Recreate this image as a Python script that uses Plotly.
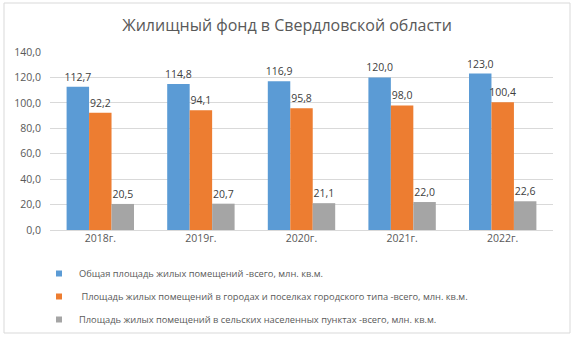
import plotly.graph_objects as go

categories = ["2018г.", "2019г.", "2020г.", "2021г.", "2022г."]
total = [112.7, 114.8, 116.9, 120.0, 123.0]
urban = [92.2, 94.1, 95.8, 98.0, 100.4]
rural = [20.5, 20.7, 21.1, 22.0, 22.6]
names = [
    "Общая площадь жилых помещений -всего, млн. кв.м.",
    " Площадь жилых помещений в городах и поселках городского типа -всего, млн. кв.м.",
    "Площадь жилых помещений в сельских населенных пунктах -всего, млн. кв.м.",
]
colors = ["#5B9BD5", "#ED7D31", "#A5A5A5"]
title = "Жилищный фонд в Свердловской области"

FONT = "Open Sans"
fig = go.Figure()
for i, (vals, name, col) in enumerate(zip([total, urban, rural], names, colors)):
    fig.add_trace(go.Bar(
        x=categories, y=vals, name=name, marker_color=col, marker_line_width=0,
        texttemplate="%{y:.1f}", textposition="outside", constraintext="none",
        textfont=dict(family=FONT, size=10.5, color="#404040"),
        cliponaxis=False, showlegend=False,
    ))
for i, (name, col) in enumerate(zip(names, colors)):
    fig.add_trace(go.Scatter(
        x=[None], y=[None], mode="markers", name=name,
        marker=dict(symbol="square", size=6, color=col),
        legendgroup=f"g{i}", showlegend=True,
    ))

W, H = 574, 337
L, R, T, B = 50, 21, 52, 107
pw, ph = W - L - R, H - T - B

def px_x(x):
    return (x - L) / pw

def px_y(y):
    return (H - B - y) / ph

fig.update_layout(
    width=W, height=H,
    margin=dict(l=L, r=R, t=T, b=B, autoexpand=False),
    paper_bgcolor="white", plot_bgcolor="white",
    separators=", ",
    barmode="group", bargap=0.33, bargroupgap=0,
    font=dict(family=FONT, color="#595959"),
    title=dict(text=title, x=0.5, xanchor="center", y=1 - 25 / H, yanchor="middle",
               font=dict(family=FONT, size=16, color="#595959")),
    xaxis=dict(showgrid=False, showline=False, ticks="", automargin=False,
               tickfont=dict(family=FONT, size=10.5, color="#595959")),
    yaxis=dict(range=[0, 140], dtick=20, tickformat=".1f", gridcolor="#D9D9D9",
               gridwidth=1, zeroline=True, zerolinecolor="#D9D9D9", zerolinewidth=1,
               showline=False, ticks="", ticklen=0, automargin=False, ticklabelstandoff=8,
               tickfont=dict(family=FONT, size=10.5, color="#595959")),
    showlegend=True,
    legend=dict(orientation="v", x=px_x(39), xanchor="left", y=px_y(259), yanchor="top",
                traceorder="grouped", tracegroupgap=4,
                font=dict(family=FONT, size=9.3, color="#595959"),
                itemwidth=30, bgcolor="rgba(0,0,0,0)"),
    shapes=[dict(type="rect", xref="paper", yref="paper",
                 x0=px_x(4), x1=px_x(570), y0=px_y(333), y1=px_y(3),
                 line=dict(color="#D9D9D9", width=1), layer="below")],
)
fig.write_html("out.html", config={"displayModeBar": False},
               post_script="document.body.style.margin='0';")
